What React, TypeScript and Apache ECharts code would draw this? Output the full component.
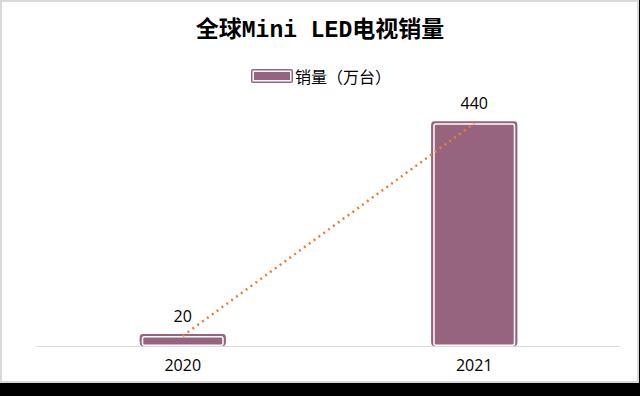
import React, { useEffect, useRef } from "react";
import * as echarts from "echarts";

const categories = ["2020", "2021"];
const salesValues = [20, 440];
const trendValues = [20, 440];
const seriesName = "销量（万台）";
const titleText = "全球Mini LED电视销量";

const PURPLE = "#97647F";
const LEGEND_ICON =
  "path://M2 0H40Q42 0 42 2V12Q42 14 40 14H2Q0 14 0 12V2Q0 0 2 0Z" +
  "M2 1.5Q1.5 1.5 1.5 2V12Q1.5 12.5 2 12.5H40Q40.5 12.5 40.5 12V2Q40.5 1.5 40 1.5Z" +
  "M3 3H39V11H3Z";

export default function App() {
  const ref = useRef<HTMLDivElement>(null);
  useEffect(() => {
    document.body.style.margin = "0";
    const chart = echarts.init(ref.current!, null, { renderer: "svg" });
    chart.setOption({
      animation: false,
      backgroundColor: "#000",
      graphic: [
        {
          type: "rect",
          z: -10,
          silent: true,
          shape: { x: 1, y: 1, width: 637, height: 381 },
          style: { fill: "#fff", stroke: "#d9d9d9", lineWidth: 2 },
        },
      ],
      title: {
        text: titleText,
        left: "center",
        top: 14,
        textStyle: {
          fontFamily: "Liberation Mono, Noto Sans CJK SC",
          fontSize: 23,
          fontWeight: "bold",
          color: "#000",
        },
      },
      legend: {
        data: [seriesName],
        top: 63,
        left: 246,
        itemWidth: 42,
        itemHeight: 14,
        itemGap: 10,
        icon: LEGEND_ICON,
        itemStyle: {
          color: PURPLE,
          borderWidth: 0,
          shadowBlur: 0,
          shadowOffsetY: 0,
        },
        textStyle: {
          fontFamily: "Noto Sans CJK SC",
          fontSize: 16,
          color: "#000",
          padding: [0, 0, 0, -3],
        },
      },
      grid: { left: 37, right: 20, top: 93, bottom: 50 },
      xAxis: [
        {
          type: "category",
          data: categories,
          axisLine: { lineStyle: { color: "#d9d9d9", width: 1 } },
          axisTick: { show: false },
          axisLabel: {
            fontFamily: "Open Sans",
            fontSize: 16,
            color: "#000",
            margin: 11,
          },
        },
        {
          type: "category",
          data: categories,
          show: false,
        },
      ],
      yAxis: {
        type: "value",
        min: 0,
        max: 500,
        show: false,
        splitLine: { show: false },
      },
      series: [
        {
          name: seriesName,
          type: "bar",
          xAxisIndex: 0,
          data: salesValues,
          barWidth: 86,
          clip: false,
          itemStyle: {
            color: PURPLE,
            borderRadius: 3,
            shadowColor: PURPLE,
            shadowBlur: 0,
            shadowOffsetY: -2,
          },
          z: 2,
        },
        {
          name: "inner",
          type: "bar",
          xAxisIndex: 1,
          data: salesValues,
          barWidth: 82,
          clip: false,
          itemStyle: {
            color: PURPLE,
            borderColor: "#fff",
            borderWidth: 1.5,
            borderRadius: 2,
          },
          label: {
            show: true,
            position: "top",
            distance: 12,
            fontFamily: "Open Sans",
            fontSize: 16,
            color: "#000",
          },
          z: 3,
        },
        {
          name: "trend",
          type: "line",
          xAxisIndex: 0,
          data: trendValues,
          symbol: "none",
          lineStyle: { color: "#ED7D31", width: 2.5, type: [2, 4] },
          z: 5,
        },
      ],
    });
    return () => chart.dispose();
  }, []);
  return (
    <div
      ref={ref}
      style={{ position: "fixed", left: 0, top: 0, width: 640, height: 396 }}
    />
  );
}
